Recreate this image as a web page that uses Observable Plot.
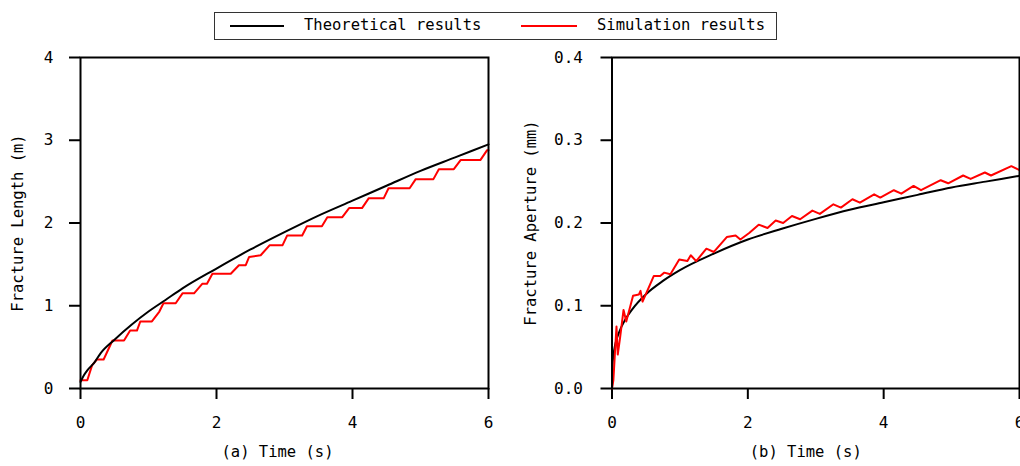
<!DOCTYPE html>
<html><head><meta charset="utf-8">
<script src="https://cdn.jsdelivr.net/npm/d3@7"></script>
<script src="https://cdn.jsdelivr.net/npm/@observablehq/plot@0.6"></script>
<style>
body{margin:0;background:#fff;font-family:"DejaVu Sans Mono",monospace;}
#wrap{position:relative;width:1020px;height:466px;overflow:hidden;}
#legend{position:absolute;left:214px;top:12px;width:563px;height:28px;box-sizing:border-box;border:1.5px solid #333;}
.sw{position:absolute;top:12px;height:2px;}
.lt{position:absolute;top:3px;font-size:15.5px;color:#000;white-space:pre;}
#plots{position:absolute;left:0;top:45px;display:flex;}
</style></head><body>
<div id="wrap">
  <div id="legend">
    <div class="sw" style="left:15px;width:54px;background:#000"></div>
    <div class="lt" style="left:89px">Theoretical results</div>
    <div class="sw" style="left:306px;width:56px;background:#ff0000"></div>
    <div class="lt" style="left:382px">Simulation results</div>
  </div>
  <div id="plots"></div>
</div>
<script>
// ---- Panel (a): fracture length ----
const lenTheoT = [0, 0.05, 0.1, 0.2, 0.3, 0.5, 0.75, 1, 1.25, 1.5, 2, 2.5, 3, 3.5, 4, 4.5, 5, 5.5, 6];
const lenTheoL = [0.08, 0.16, 0.22, 0.31, 0.43, 0.59, 0.77, 0.93, 1.07, 1.21, 1.45, 1.68, 1.89, 2.09, 2.27, 2.45, 2.63, 2.79, 2.95];
const lenSimT = [0, 0.10, 0.17, 0.24, 0.34, 0.47, 0.64, 0.73, 0.83, 0.88, 1.05, 1.16, 1.22, 1.40, 1.50, 1.67, 1.79, 1.86, 1.94, 2.21, 2.33, 2.43, 2.48, 2.65, 2.78, 2.97, 3.04, 3.26, 3.33, 3.55, 3.63, 3.85, 3.95, 4.14, 4.24, 4.46, 4.53, 4.84, 4.93, 5.19, 5.27, 5.49, 5.59, 5.88, 5.98, 6.0];
const lenSimL = [0.10, 0.10, 0.28, 0.35, 0.35, 0.58, 0.58, 0.70, 0.70, 0.81, 0.81, 0.93, 1.03, 1.03, 1.15, 1.15, 1.265, 1.265, 1.386, 1.386, 1.49, 1.49, 1.59, 1.61, 1.73, 1.73, 1.85, 1.85, 1.96, 1.96, 2.07, 2.07, 2.18, 2.18, 2.30, 2.30, 2.42, 2.42, 2.53, 2.53, 2.65, 2.65, 2.76, 2.76, 2.88, 2.88];

// ---- Panel (b): fracture aperture ----
const apTheoT = [0, 0.01, 0.05, 0.1, 0.2, 0.3, 0.5, 0.75, 1, 1.5, 2, 2.5, 3, 3.5, 4, 4.5, 5, 5.5, 6];
const apTheoW = [0.0, 0.032, 0.054, 0.067, 0.084, 0.096, 0.114, 0.130, 0.143, 0.163, 0.180, 0.193, 0.205, 0.216, 0.225, 0.234, 0.243, 0.250, 0.257];
const apSimT = [0, 0.02, 0.066, 0.085, 0.12, 0.17, 0.21, 0.31, 0.395, 0.42, 0.45, 0.616, 0.71, 0.77, 0.86, 0.99, 1.11, 1.16, 1.24, 1.39, 1.50, 1.69, 1.82, 1.89, 2.02, 2.16, 2.29, 2.41, 2.52, 2.65, 2.77, 2.95, 3.06, 3.26, 3.37, 3.54, 3.65, 3.86, 3.95, 4.15, 4.26, 4.44, 4.55, 4.84, 4.95, 5.17, 5.28, 5.49, 5.58, 5.88, 6.0];
const apSimW = [0, 0.01, 0.075, 0.041, 0.062, 0.095, 0.081, 0.112, 0.1135, 0.118, 0.105, 0.136, 0.136, 0.140, 0.138, 0.156, 0.154, 0.161, 0.154, 0.169, 0.165, 0.183, 0.185, 0.180, 0.188, 0.198, 0.194, 0.203, 0.200, 0.2085, 0.2045, 0.215, 0.211, 0.2226, 0.2186, 0.2287, 0.2246, 0.2347, 0.2307, 0.2396, 0.2355, 0.2448, 0.2396, 0.2517, 0.248, 0.2574, 0.2533, 0.261, 0.2574, 0.2687, 0.264];

const xTicks = [0, 2, 4, 6];
const lenTicks = [0, 1, 2, 3, 4];
const apTicks = [0, 0.1, 0.2, 0.3, 0.4];

const FONT = "DejaVu Sans Mono";
const zip = (xs, ys) => xs.map((x, i) => ({x, y: ys[i]}));

function panel({theo, sim, yDomain, yTicks, yFmt, ylabel, xlabel, ml, mr, tickPad, ylabDx, xlabDx, redOnTop}) {
  const black = Plot.line(theo, {x: "x", y: "y", stroke: "#000", strokeWidth: 2, curve: "monotone-x"});
  const red = Plot.line(sim, {x: "x", y: "y", stroke: "#ff0000", strokeWidth: 2});
  return Plot.plot({
    width: 510, height: 421,
    marginTop: 12, marginBottom: 78, marginLeft: ml, marginRight: mr,
    style: {fontFamily: FONT, fontSize: "16px", color: "#000", background: "#fff", overflow: "visible"},
    x: {domain: [0, 6]},
    y: {domain: yDomain},
    marks: [
      Plot.axisX({ticks: xTicks, tickFormat: d3.format("d"), tickSize: 11, tickPadding: 17, strokeWidth: 2, label: null, fontSize: 16}),
      Plot.axisY({ticks: yTicks, tickFormat: yFmt, tickSize: 11, tickPadding: tickPad, strokeWidth: 2, label: null, fontSize: 16}),
      ...(redOnTop ? [black, red] : [red, black]),
      Plot.frame({stroke: "#000", strokeWidth: 2}),
      Plot.text([xlabel], {frameAnchor: "bottom", dy: 68, dx: xlabDx, fontSize: 15.5, fontFamily: FONT, fill: "#000"}),
      Plot.text([ylabel], {frameAnchor: "left", textAnchor: "middle", lineAnchor: "middle", rotate: -90, dx: ylabDx, fontSize: 15.5, fontFamily: FONT, fill: "#000"})
    ]
  });
}

const left = panel({
  theo: zip(lenTheoT, lenTheoL), sim: zip(lenSimT, lenSimL),
  yDomain: [0, 4], yTicks: lenTicks, yFmt: d3.format("d"),
  ylabel: "Fracture Length (m)", xlabel: "(a) Time (s)",
  ml: 80, mr: 22, tickPad: 16, ylabDx: -62, xlabDx: -7, redOnTop: false
});
const right = panel({
  theo: zip(apTheoT, apTheoW), sim: zip(apSimT, apSimW),
  yDomain: [0, 0.4], yTicks: apTicks, yFmt: d3.format(".1f"),
  ylabel: "Fracture Aperture (mm)", xlabel: "(b) Time (s)",
  ml: 101.5, mr: 1, tickPad: 18, ylabDx: -81, xlabDx: -10, redOnTop: true
});
document.getElementById("plots").append(left, right);
</script>
</body></html>
